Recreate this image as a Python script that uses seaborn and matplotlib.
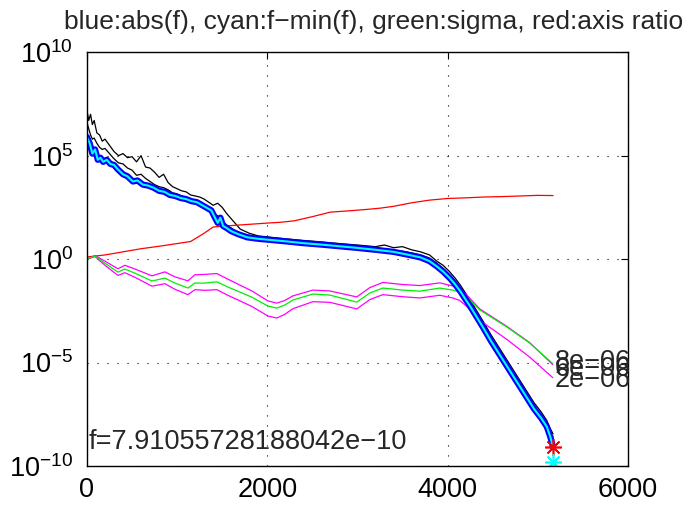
import numpy as np
import matplotlib
matplotlib.use("Agg")
import matplotlib.pyplot as plt
import seaborn as sns

# data (y values stored as log10)
x_f = [0, 30, 60, 90, 120, 150, 180, 220, 260, 300, 340, 400, 450, 510, 560, 620, 680, 740, 800, 860,
       920, 980, 1040, 1100, 1160, 1220, 1280, 1340, 1380, 1420, 1450, 1480, 1510, 1550, 1600, 1680, 1780, 1900, 2050, 2200,
       2400, 2600, 2800, 3000, 3200, 3400, 3550, 3700, 3800, 3880, 3950, 4020, 4080, 4140, 4200, 4260, 4330, 4400, 4480, 4560,
       4640, 4720, 4800, 4880, 4960, 5040, 5100, 5140, 5170]
logf = [5.9, 5.6, 5.1, 5.3, 4.8, 4.9, 4.7, 4.8, 4.6, 4.55, 4.35, 4.1, 4.0, 3.75, 3.8, 3.6, 3.55, 3.45, 3.3, 3.25,
        3.1, 3.05, 2.95, 2.9, 2.8, 2.75, 2.6, 2.45, 2.35, 2.0, 1.75, 2.0, 1.6, 1.5, 1.35, 1.2, 1.05, 0.98, 0.92, 0.86,
        0.77, 0.7, 0.62, 0.54, 0.45, 0.35, 0.22, 0.08, -0.1, -0.35, -0.6, -0.9, -1.2, -1.55, -1.95, -2.35, -2.85, -3.35, -3.95, -4.5,
        -5.05, -5.6, -6.15, -6.7, -7.25, -7.7, -8.1, -8.6, -9.1]

x_b = [0, 20, 40, 60, 80, 110, 140, 170, 200, 250, 300, 350, 400, 450, 500, 550, 600, 650, 700, 750,
       800, 850, 900, 950, 1000, 1050, 1100, 1150, 1200, 1250, 1300, 1350, 1400, 1450, 1500, 1550, 1600, 1650, 1700, 1800,
       1900, 2050, 2200, 2400, 2600, 2800, 3000, 3200, 3300, 3400, 3500, 3600, 3700, 3800, 3880, 3950, 4020, 4080, 4140, 4200,
       4260, 4330, 4400, 4480, 4560, 4640, 4720, 4800, 4880, 4960, 5040, 5100, 5140, 5170]
logf_max = [7.2, 6.7, 7.0, 6.5, 6.7, 6.1, 6.0, 5.7, 5.8, 5.5, 5.2, 5.0, 5.1, 4.9, 4.95, 4.7, 5.0, 4.45, 4.4, 4.2,
            3.95, 4.1, 3.7, 3.5, 3.4, 3.3, 3.25, 3.1, 3.05, 3.0, 2.9, 2.75, 2.6, 2.7, 2.5, 2.2, 1.95, 1.7, 1.45, 1.25,
            1.12, 1.05, 0.98, 0.9, 0.83, 0.75, 0.68, 0.6, 0.68, 0.55, 0.6, 0.45, 0.35, 0.2, -0.1, -0.3, -0.6, -0.9, -1.25, -1.65,
            -2.05, -2.55, -3.05, -3.65, -4.2, -4.75, -5.3, -5.85, -6.4, -6.95, -7.4, -7.8, -8.2, -8.45]
logf_med = [6.6, 6.3, 6.0, 5.8, 5.85, 5.6, 5.4, 5.3, 5.35, 5.1, 4.85, 4.65, 4.6, 4.4, 4.3, 4.05, 4.1, 3.9, 3.75, 3.6,
            3.5, 3.45, 3.35, 3.2, 3.15, 3.05, 2.95, 2.9, 2.8, 2.75, 2.6, 2.4, 2.2, 2.1, 1.85, 1.65, 1.5, 1.35, 1.25, 1.15,
            1.05, 0.98, 0.93, 0.85, 0.78, 0.7, 0.62, 0.52, 0.5, 0.42, 0.38, 0.3, 0.2, 0.05, -0.2, -0.45, -0.75, -1.05, -1.4, -1.8,
            -2.2, -2.7, -3.2, -3.8, -4.35, -4.9, -5.45, -6.0, -6.55, -7.1, -7.55, -7.95, -8.4, -8.6]

x_r = [0, 200, 400, 600, 800, 1000, 1150, 1300, 1400, 1600, 1800, 2000, 2150, 2300, 2500, 2700, 2900, 3100, 3250,
       3400, 3600, 3800, 4000, 4200, 4400, 4600, 4800, 5000, 5170]
log_ratio = [0.1, 0.2, 0.35, 0.5, 0.62, 0.75, 0.85, 1.25, 1.55, 1.62, 1.68, 1.74, 1.78, 1.85, 2.05, 2.27, 2.33, 2.4, 2.46,
             2.55, 2.72, 2.85, 2.93, 2.96, 3.0, 3.02, 3.05, 3.08, 3.07]

x_s = [0, 90, 200, 344, 421, 532, 721, 865, 976, 1120, 1197, 1308, 1441, 1563, 1829, 2007, 2106, 2195, 2284, 2506,
       2694, 2993, 3137, 3282, 3503, 3692, 3914, 4058, 4135, 4213, 4357, 4656, 4911, 5166]
log_sigma = [0.0, 0.14, -0.2, -0.63, -0.48, -0.68, -1.06, -0.92, -1.16, -1.4, -1.16, -1.16, -1.1, -1.35, -1.84, -2.27,
             -2.37, -2.22, -1.98, -1.69, -1.74, -2.08, -1.64, -1.4, -1.5, -1.55, -1.4, -1.5, -1.6, -1.84, -2.46, -3.28,
             -4.06, -5.05]
log_std_hi = [0.0, 0.17, -0.1, -0.47, -0.3, -0.48, -0.81, -0.62, -0.86, -1.05, -0.76, -0.74, -0.7, -0.97, -1.54, -2.02,
              -2.13, -2.0, -1.78, -1.5, -1.54, -1.83, -1.38, -1.13, -1.23, -1.28, -1.15, -1.3, -1.45, -1.74, -2.41, -3.25,
              -4.04, -5.1]
log_std_lo = [0.0, 0.12, -0.3, -0.79, -0.66, -0.88, -1.31, -1.19, -1.46, -1.72, -1.48, -1.51, -1.48, -1.75, -2.29, -2.75,
              -2.85, -2.67, -2.4, -2.06, -2.09, -2.41, -1.96, -1.72, -1.82, -1.88, -1.75, -1.88, -2.0, -2.29, -2.96, -3.88,
              -4.74, -5.73]

end_labels = ["8e\u221206", "6e\u221206", "2e\u221206"]
end_label_log = [-4.97, -5.3, -5.85]
f_final = 7.91055728188042e-10
log_fmin_end = -9.8

sns.set_style("white")
plt.rcParams["font.family"] = ["Liberation Sans", "DejaVu Sans"]
plt.rcParams["mathtext.fontset"] = "custom"
plt.rcParams["mathtext.rm"] = "Liberation Sans"
plt.rcParams["mathtext.it"] = "Liberation Sans"

fig = plt.figure(figsize=(6.9, 5.07), dpi=100)
ax = fig.add_axes([0.126, 0.081, 0.784, 0.816])
ax.set_yscale("log")

def p10(v):
    return np.power(10.0, np.asarray(v))

kw = dict(ax=ax, estimator=None, sort=False, legend=False)
sns.lineplot(x=x_b, y=p10(logf_max), color="black", lw=0.9, **kw)
sns.lineplot(x=x_b, y=p10(logf_med), color="black", lw=0.9, **kw)
sns.lineplot(x=x_r, y=p10(log_ratio), color="red", lw=0.9, **kw)
sns.lineplot(x=x_s, y=p10(log_std_hi), color="magenta", lw=0.9, **kw)
sns.lineplot(x=x_s, y=p10(log_std_lo), color="magenta", lw=0.9, **kw)
sns.lineplot(x=x_s, y=p10(log_sigma), color="#00ee00", lw=0.9, **kw)
sns.lineplot(x=x_f, y=p10(logf), color="blue", lw=4.5, **kw)
sns.lineplot(x=x_f, y=p10(logf), color="cyan", lw=1.5, **kw)

ax.plot(x_f[-1], f_final, marker=(8, 2, 0), color="red", ms=12, mew=1.2, ls="none")
ax.plot(x_f[-1], 10 ** log_fmin_end, marker=(8, 2, 0), color="cyan", ms=12, mew=1.2, ls="none")

for lab, lv in zip(end_labels, end_label_log):
    ax.text(x_s[-1] + 20, 10 ** lv, lab, fontsize=19.5, va="center", ha="left", clip_on=False)

ax.text(15, 10 ** -8.85, "f=" + repr(f_final).replace("-", "\u2212"), fontsize=19.5, va="center", ha="left")

ax.set_xlim(0, 6000)
ax.set_ylim(1e-10, 1e10)
ax.set_xticks([0, 2000, 4000, 6000])
ax.set_yticks([1e-10, 1e-5, 1e0, 1e5, 1e10])
ax.set_yticklabels([r"$10^{-10}$", r"$10^{-5}$", r"$10^{0}$", r"$10^{5}$", r"$10^{10}$"])
ax.minorticks_off()
ax.tick_params(direction="in", top=True, right=True, length=5, labelsize=19.5, colors="black")
ax.tick_params(axis="y", pad=10)
ax.tick_params(axis="x", pad=8)
ax.grid(True, color="black", linestyle=(0, (1, 8)), lw=0.8)
for s in ax.spines.values():
    s.set_visible(True)
    s.set_color("black")
    s.set_linewidth(1.0)
ax.set_title("blue:abs(f), cyan:f\u2212min(f), green:sigma, red:axis ratio", fontsize=19, pad=17, x=0.53)

fig.savefig("out.png", dpi=100)
